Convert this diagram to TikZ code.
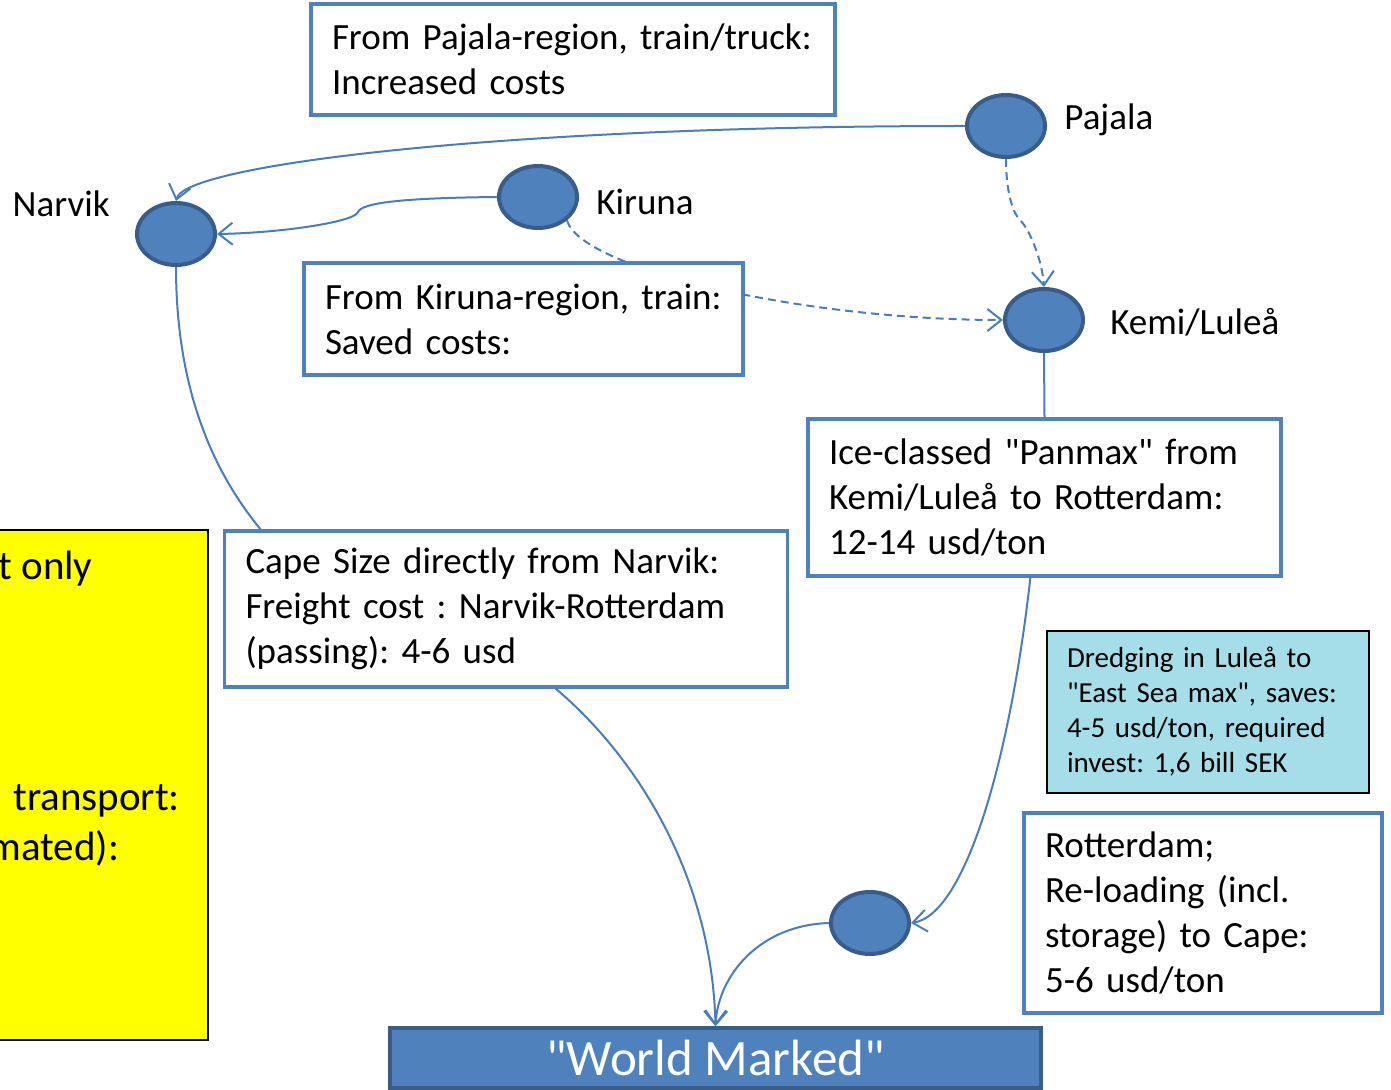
\documentclass[tikz,border=0pt]{standalone}
\usepackage{fontspec}
\setmainfont{Carlito}
\usetikzlibrary{arrows.meta,shapes.geometric}
\definecolor{bleu}{HTML}{4F81BD}
\definecolor{bleufonce}{HTML}{385D8A}
\definecolor{trait}{HTML}{4A7EBB}
\definecolor{cyanclair}{RGB}{165,221,232}
\definecolor{jaune}{RGB}{255,255,0}
\frenchspacing

\begin{document}
\begin{tikzpicture}[x=0.5pt, y=-0.5pt, font=\fontsize{18.5}{22.5}\selectfont,
  port/.style={ellipse, draw=bleufonce, fill=bleu, line width=2pt, minimum width=39pt, minimum height=31pt, inner sep=0pt},
  boite/.style={draw=bleu, fill=white, line width=1.75pt, align=left, inner xsep=10.5pt, inner ysep=0pt},
  nom/.style={inner sep=0pt},
  fleche/.style={draw=trait, line width=1pt, -{Straight Barb[length=7pt,width=11pt]}},
  tirets/.style={dash pattern=on 4pt off 2.5pt},
  lien/.style={draw=trait, line width=1pt}]
\useasboundingbox (0,0) rectangle (1391,1090);
% yellow note, cut at the left edge
\begin{scope}
\clip (0,0) rectangle (1391,1090);
\draw[fill=jaune, line width=1pt] (-10,530) rectangle (208,1040);
\node[nom, anchor=base west, font=\fontsize{20.5}{25}\selectfont] (yt1) at (-2,579) {t only};
\node[nom, anchor=base west, font=\fontsize{20.5}{25}\selectfont] (yt2) at (13,810) {transport:};
\node[nom, anchor=base west, font=\fontsize{20.5}{25}\selectfont] (yt3) at (-12,860) {mated):};
\end{scope}
% ports
\node[port] (narvik) at (176,234) {};
\node[port] (kiruna) at (538,197) {};
\node[port] (pajala) at (1006,126) {};
\node[port] (kemi) at (1044,320) {};
\node[port] (rdam) at (870,923) {};
\node[nom, anchor=east] (lnarvik) at (110,204) {Narvik};
\node[nom, anchor=west] (lkiruna) at (596,202) {Kiruna};
\node[nom, anchor=west] (lpajala) at (1064,120) {Pajala};
\node[nom, anchor=west] (lkemi) at (1110,322) {Kemi/Luleå};
\draw[fleche, tirets] (kiruna.south east) .. controls (580,268) and (800,320) .. (kemi.west);
% boxes
\node[boite, text width=241pt, minimum height=55.5pt] (pajbox) at (573,59.5) {From Pajala-region, train/truck:\\Increased costs};
\node[boite, text width=198.5pt, minimum height=56pt] (kirbox) at (523.5,319) {From Kiruna-region, train:\\Saved costs:};
\node[boite, text width=215.5pt, minimum height=78.5pt] (icebox) at (1044.5,497.5) {Ice-classed \textquotedbl Panmax\textquotedbl{} from\\Kemi/Luleå to Rotterdam:\\12-14 usd/ton};
\node[boite, text width=260.5pt, minimum height=78pt] (capebox) at (506,609) {Cape Size directly from Narvik:\\Freight cost : Narvik-Rotterdam\\(passing): 4-6 usd};
\node[boite, text width=158pt, minimum height=100pt] (rotbox) at (1203,913) {Rotterdam;\\Re-loading (incl.\\storage) to Cape:\\5-6 usd/ton};
\node[boite, draw=black, line width=1pt, fill=cyanclair, inner xsep=10pt, text width=141pt, minimum height=81pt, font=\fontsize{14.5}{17.5}\selectfont] (dredge) at (1208,712) {Dredging in Luleå to\\\textquotedbl East Sea max\textquotedbl, saves:\\4-5 usd/ton, required\\invest: 1,6 bill SEK};
\node[draw=bleufonce, fill=bleu, line width=1.75pt, minimum width=325.5pt, minimum height=30pt, inner sep=0pt, text=white, font=\fontsize{25.5}{30}\selectfont] (world) at (715.5,1058) {\textquotedbl World Marked\textquotedbl};
% connectors
\draw[fleche] (pajala.west) .. controls (500,126) and (185,165) .. (narvik.north);
\draw[fleche] (kiruna.west) .. controls (400,198) and (362,203) .. (358,212) .. controls (355,222) and (280,233) .. (narvik.east);
\draw[fleche, tirets] (pajala.south) .. controls (1006,190) and (1012,212) .. (1020,220) .. controls (1030,230) and (1042,260) .. (kemi.north);
\draw[lien] (narvik.south) .. controls (176,400) and (220,480) .. (capebox.162);
\draw[lien] (kemi.south) -- (icebox.north);
\draw[fleche] (icebox.-100) .. controls (1010,760) and (965,915) .. (rdam.east);
\draw[fleche] (capebox.-58) .. controls (640,760) and (712,880) .. (world.north);
\draw[fleche] (rdam.west) .. controls (760,925) and (718,975) .. (world.north);
\end{tikzpicture}
\end{document}
